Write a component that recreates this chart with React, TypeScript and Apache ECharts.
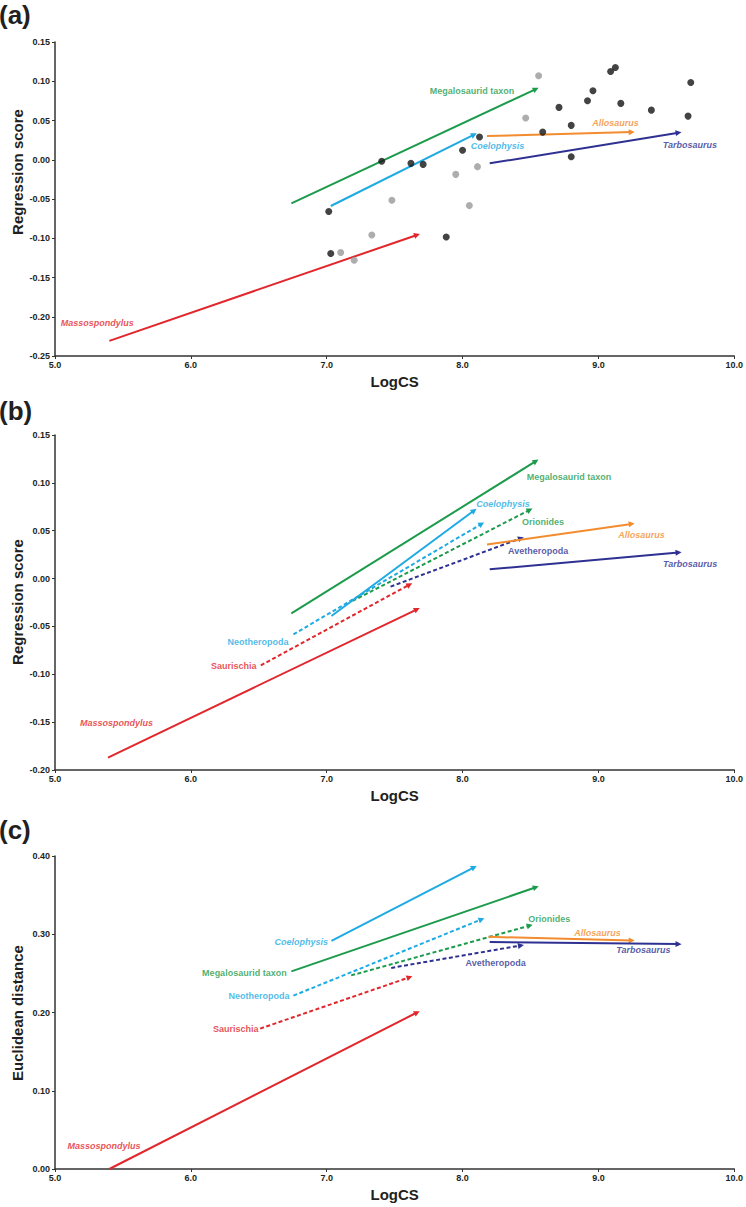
import React, { useEffect, useRef } from 'react';
import * as echarts from 'echarts';

// ---------- data ----------
const xRange = [5, 10];
const xInterval = 1;

// Panel (a): individual specimen regression scores
const aBlackPoints = [
  [7.015, -0.066], [7.03, -0.1195], [7.405, -0.002], [7.62, -0.0046], [7.71, -0.0059],
  [7.88, -0.0983], [8.0, 0.012], [8.125, 0.0289], [8.59, 0.0352], [8.71, 0.0667],
  [8.8, 0.0438], [8.8, 0.0039], [8.92, 0.0752], [8.96, 0.0879], [9.09, 0.1125],
  [9.125, 0.1176], [9.165, 0.0718], [9.39, 0.0632], [9.68, 0.0985], [9.66, 0.0556],
];
const aGrayPoints = [
  [7.103, -0.1182], [7.2025, -0.128], [7.332, -0.0958], [7.48, -0.0517], [7.95, -0.0186],
  [8.11, -0.0088], [8.05, -0.0584], [8.465, 0.0531], [8.56, 0.107],
];

// Trajectories: [taxon, x0, y0, x1, y1]
const aArrows = [
  ['Massospondylus', 5.4, -0.2307, 7.665, -0.0958],
  ['Megalosaurid taxon', 6.74, -0.0555, 8.54, 0.09],
  ['Coelophysis', 7.03, -0.0589, 8.085, 0.0319],
  ['Allosaurus', 8.18, 0.0302, 9.245, 0.0352],
  ['Tarbosaurus', 8.2, -0.0046, 9.59, 0.0345],
];
const bArrows = [
  ['Massospondylus', 5.39, -0.187, 7.665, -0.0321],
  ['Megalosaurid taxon', 6.74, -0.0363, 8.54, 0.1227],
  ['Saurischia', 6.515, -0.0907, 7.61, -0.0063],
  ['Neotheropoda', 6.755, -0.0583, 8.14, 0.0571],
  ['Orionides', 7.19, -0.0234, 8.495, 0.0718],
  ['Avetheropoda', 7.47, -0.0084, 8.43, 0.0422],
  ['Coelophysis', 7.035, -0.0391, 8.085, 0.0711],
  ['Allosaurus', 8.18, 0.0356, 9.245, 0.0571],
  ['Tarbosaurus', 8.2, 0.0097, 9.59, 0.0272],
];
const cArrows = [
  ['Massospondylus', 5.4, 0.0, 7.665, 0.2],
  ['Saurischia', 6.51, 0.1794, 7.61, 0.245],
  ['Neotheropoda', 6.755, 0.2215, 8.14, 0.319],
  ['Orionides', 7.18, 0.2474, 8.495, 0.311],
  ['Avetheropoda', 7.475, 0.257, 8.43, 0.2857],
  ['Megalosaurid taxon', 6.74, 0.2525, 8.54, 0.36],
  ['Coelophysis', 7.035, 0.2916, 8.085, 0.3856],
  ['Allosaurus', 8.19, 0.2967, 9.245, 0.292],
  ['Tarbosaurus', 8.2, 0.29, 9.59, 0.2874],
];

// Label anchors (data coordinates): [taxon, x, y]
const aLabels = [
  ['Massospondylus', 5.311, -0.2078],
  ['Megalosaurid taxon', 8.069, 0.0874],
  ['Coelophysis', 8.257, 0.017],
  ['Allosaurus', 9.126, 0.0467],
  ['Tarbosaurus', 9.674, 0.0183],
];
const bLabels = [
  ['Megalosaurid taxon', 8.784, 0.1057],
  ['Coelophysis', 8.297, 0.0777],
  ['Orionides', 8.593, 0.0586],
  ['Allosaurus', 9.317, 0.0456],
  ['Avetheropoda', 8.556, 0.0293],
  ['Tarbosaurus', 9.675, 0.0157],
  ['Neotheropoda', 6.494, -0.0659],
  ['Saurischia', 6.316, -0.091],
  ['Massospondylus', 5.453, -0.1508],
];
const cLabels = [
  ['Coelophysis', 6.813, 0.2895],
  ['Megalosaurid taxon', 6.394, 0.2504],
  ['Neotheropoda', 6.501, 0.221],
  ['Saurischia', 6.33, 0.1786],
  ['Massospondylus', 5.36, 0.0297],
  ['Orionides', 8.639, 0.3193],
  ['Allosaurus', 8.993, 0.3018],
  ['Tarbosaurus', 9.331, 0.2797],
  ['Avetheropoda', 8.243, 0.2635],
];

// y-axis ranges: [min, max, interval, decimals]
const yRanges = [
  [-0.25, 0.15, 0.05, 2],
  [-0.2, 0.15, 0.05, 2],
  [0, 0.4, 0.1, 2],
];
const yTitles = ['Regression score', 'Regression score', 'Euclidean distance'];
const xTitle = 'LogCS';
const panelLetters = ['(a)', '(b)', '(c)'];

// ---------- styles ----------
const RED = '#e2262c';
const GREEN = '#1d9b4c';
const BLUE = '#1eaae3';
const ORANGE = '#f28c2e';
const NAVY = '#2e3191';
const COLORS: Record<string, string> = {
  Massospondylus: RED,
  Saurischia: RED,
  'Megalosaurid taxon': GREEN,
  Orionides: GREEN,
  Coelophysis: BLUE,
  Neotheropoda: BLUE,
  Allosaurus: ORANGE,
  Tarbosaurus: NAVY,
  Avetheropoda: NAVY,
};
const DASHED = new Set(['Saurischia', 'Neotheropoda', 'Orionides', 'Avetheropoda']);
const ITALIC = new Set(['Massospondylus', 'Coelophysis', 'Allosaurus', 'Tarbosaurus']);
const FONT = '"Liberation Sans", Arial, sans-serif';
const INK = '#231f20';

const grids = [
  { left: 55, width: 684, top: 42, height: 314 },
  { left: 55, width: 684, top: 435, height: 335 },
  { left: 55, width: 684, top: 856, height: 313 },
];
const yTitlePos = [172, 602, 1013];
const letterPos = [15, 411, 830];

function buildOption() {
  const xAxis = grids.map((_, i) => ({
    type: 'value',
    gridIndex: i,
    min: xRange[0],
    max: xRange[1],
    interval: xInterval,
    name: xTitle,
    nameLocation: 'middle',
    nameGap: 18,
    nameTextStyle: { fontFamily: FONT, fontSize: 15, fontWeight: 'bold', color: INK },
    splitLine: { show: false },
    axisLine: { show: true, onZero: false, lineStyle: { color: '#333', width: 1.5 } },
    axisTick: { show: true, length: 3, lineStyle: { color: '#333', width: 1 } },
    axisLabel: {
      margin: 4,
      fontFamily: FONT,
      fontSize: 9,
      fontWeight: 'bold',
      color: INK,
      formatter: (v: number) => v.toFixed(1),
    },
  }));
  const yAxis = grids.map((_, i) => ({
    type: 'value',
    gridIndex: i,
    min: yRanges[i][0],
    max: yRanges[i][1],
    interval: yRanges[i][2],
    splitLine: { show: false },
    axisLine: { show: true, onZero: false, lineStyle: { color: '#333', width: 1.5 } },
    axisTick: { show: true, length: 3, lineStyle: { color: '#333', width: 1 } },
    axisLabel: {
      margin: 5,
      fontFamily: FONT,
      fontSize: 9,
      fontWeight: 'bold',
      color: INK,
      formatter: (v: number) => v.toFixed(yRanges[i][3]),
    },
  }));

  const series: any[] = [];
  [aArrows, bArrows, cArrows].forEach((arrows, i) => {
    arrows.forEach((a) => {
      const name = a[0] as string;
      const c = COLORS[name];
      series.push({
        type: 'lines',
        name: name + ' ' + i,
        coordinateSystem: 'cartesian2d',
        xAxisIndex: i,
        yAxisIndex: i,
        symbol: ['none', 'triangle'],
        symbolSize: [6, 6],
        silent: true,
        z: 2,
        itemStyle: { color: c },
        lineStyle: {
          color: c,
          width: 2,
          opacity: 1,
          curveness: 0,
          type: DASHED.has(name) ? [4, 2.5] : 'solid',
        },
        data: [{ coords: [[a[1], a[2]], [a[3], a[4]]] }],
      });
    });
  });

  series.push({
    type: 'scatter',
    xAxisIndex: 0,
    yAxisIndex: 0,
    symbolSize: 7,
    itemStyle: { color: '#999999' },
    z: 3,
    silent: true,
    data: aGrayPoints,
  });
  series.push({
    type: 'scatter',
    xAxisIndex: 0,
    yAxisIndex: 0,
    symbolSize: 7,
    itemStyle: { color: '#141414' },
    z: 3,
    silent: true,
    data: aBlackPoints,
  });

  [aLabels, bLabels, cLabels].forEach((labels, i) => {
    series.push({
      type: 'scatter',
      xAxisIndex: i,
      yAxisIndex: i,
      symbolSize: 1,
      silent: true,
      z: 4,
      itemStyle: { color: 'transparent' },
      label: {
        show: true,
        position: 'inside',
        formatter: '{b}',
        fontFamily: FONT,
        fontSize: 9,
        fontWeight: 'bold',
      },
      data: labels.map((l) => ({
        name: l[0],
        value: [l[1], l[2]],
        label: {
          color: COLORS[l[0] as string],
          fontStyle: ITALIC.has(l[0] as string) ? 'italic' : 'normal',
        },
      })),
    });
  });

  const graphic: any[] = [];
  panelLetters.forEach((t, i) => {
    graphic.push({
      type: 'text',
      x: -1,
      y: letterPos[i],
      silent: true,
      style: {
        text: t,
        font: `bold 26px ${FONT}`,
        fill: INK,
        textAlign: 'left',
        textVerticalAlign: 'middle',
        verticalAlign: 'middle',
      },
    });
  });
  yTitles.forEach((t, i) => {
    graphic.push({
      type: 'text',
      x: 17,
      y: yTitlePos[i],
      rotation: Math.PI / 2,
      silent: true,
      style: {
        text: t,
        font: `bold 15px ${FONT}`,
        fill: INK,
        textAlign: 'center',
        textVerticalAlign: 'middle',
        verticalAlign: 'middle',
      },
    });
  });

  return {
    animation: false,
    backgroundColor: '#ffffff',
    grid: grids,
    xAxis,
    yAxis,
    series,
    graphic,
  };
}

export default function App() {
  const ref = useRef<HTMLDivElement>(null);
  useEffect(() => {
    if (!ref.current) return;
    const chart = echarts.init(ref.current, undefined, { renderer: 'svg' });
    chart.setOption(buildOption() as any);
    return () => chart.dispose();
  }, []);
  return (
    <div
      ref={ref}
      style={{ position: 'absolute', left: 0, top: 0, width: 746, height: 1207, background: '#fff' }}
    />
  );
}
